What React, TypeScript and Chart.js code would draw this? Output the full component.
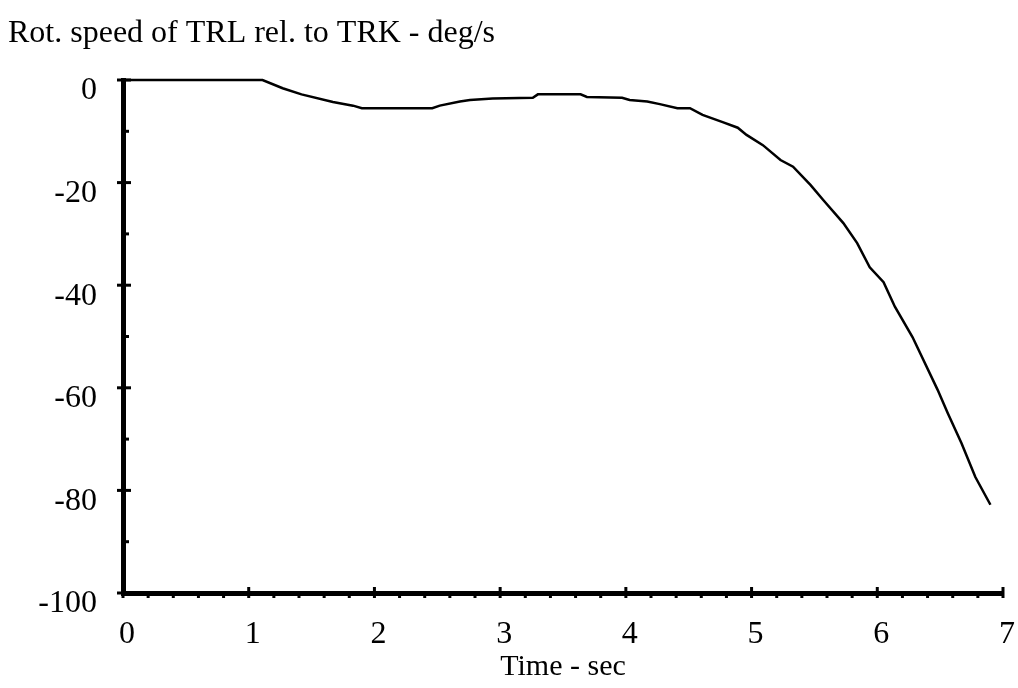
import React, { useEffect, useRef } from "react";
import { Chart, registerables } from "chart.js";

Chart.register(...registerables);

const timeValues = [0, 1.11, 1.27, 1.42, 1.67, 1.83, 1.9, 2.46, 2.52, 2.68, 2.76, 2.94, 3.26, 3.3, 3.64, 3.69, 3.97, 4.03, 4.17, 4.27, 4.41, 4.51, 4.61, 4.77, 4.89, 4.96, 5.09, 5.23, 5.33, 5.47, 5.57, 5.73, 5.84, 5.94, 6.05, 6.14, 6.28, 6.48, 6.56, 6.67, 6.78, 6.9];
const speedValues = [0, 0, -1.6, -2.8, -4.3, -5.0, -5.5, -5.5, -5.0, -4.2, -3.9, -3.6, -3.45, -2.8, -2.8, -3.3, -3.45, -3.9, -4.2, -4.7, -5.5, -5.5, -6.8, -8.2, -9.3, -10.7, -12.7, -15.6, -16.9, -20.5, -23.4, -27.9, -31.8, -36.5, -39.4, -44.2, -50.1, -60.4, -64.9, -70.8, -77.4, -82.8];

const chartTitle = "Rot. speed of TRL rel. to TRK - deg/s";
const xAxisTitle = "Time - sec";
const xMin = 0;
const xMax = 7;
const xMajorStep = 1;
const xMinorStep = 0.2;
const yMin = -100;
const yMax = 0;
const yMajorStep = 20;
const yMinorStep = 10;

const FONT = "'Liberation Serif', 'Times New Roman', serif";

const tickMarksPlugin = {
  id: "tickMarks",
  afterDraw(chart: any) {
    const { ctx, chartArea, scales } = chart;
    const xs = scales.x;
    const ys = scales.y;
    ctx.save();
    ctx.strokeStyle = "#000";
    ctx.lineCap = "butt";
    for (let v = yMin; v <= yMax + 1e-9; v += yMinorStep) {
      const py = ys.getPixelForValue(v);
      const major = Math.abs(v % yMajorStep) < 1e-6;
      ctx.lineWidth = 3;
      ctx.beginPath();
      if (major) {
        ctx.moveTo(chartArea.left - 6, py);
        ctx.lineTo(chartArea.left + 8, py);
      } else {
        ctx.moveTo(chartArea.left, py);
        ctx.lineTo(chartArea.left + 6, py);
      }
      ctx.stroke();
    }
    const n = Math.round((xMax - xMin) / xMinorStep);
    for (let i = 0; i <= n; i++) {
      const t = xMin + i * xMinorStep;
      const px = xs.getPixelForValue(t);
      const major = i % Math.round(xMajorStep / xMinorStep) === 0;
      ctx.lineWidth = 3;
      ctx.beginPath();
      if (major) {
        ctx.moveTo(px, chartArea.bottom - 6);
        ctx.lineTo(px, chartArea.bottom + 5);
      } else {
        ctx.moveTo(px, chartArea.bottom);
        ctx.lineTo(px, chartArea.bottom + 5);
      }
      ctx.stroke();
    }
    ctx.restore();
  },
};

export default function App() {
  const canvasRef = useRef<HTMLCanvasElement | null>(null);

  useEffect(() => {
    if (!canvasRef.current) return;
    Chart.defaults.font.family = FONT;
    Chart.defaults.color = "#000";
    const points = timeValues.map((t, i) => ({ x: t, y: speedValues[i] }));
    const chart = new Chart(canvasRef.current, {
      type: "line",
      data: {
        datasets: [
          {
            data: points,
            borderColor: "#000",
            borderWidth: 2.5,
            pointRadius: 0,
            tension: 0,
            fill: false,
            clip: 8,
          },
        ],
      },
      options: {
        animation: false,
        responsive: true,
        maintainAspectRatio: false,
        layout: { padding: { left: 8, right: 15, top: 0, bottom: 0 } },
        plugins: {
          legend: { display: false },
          tooltip: { enabled: false },
          title: {
            display: true,
            text: chartTitle,
            align: "start",
            color: "#000",
            font: { family: FONT, size: 32, weight: "normal" },
            padding: { top: 14, bottom: 27.6 },
          },
        },
        scales: {
          x: {
            type: "linear",
            min: xMin,
            max: xMax,
            grid: {
              display: true,
              drawOnChartArea: false,
              drawTicks: true,
              tickLength: 20,
              color: "rgba(0,0,0,0)",
            },
            border: { display: true, color: "#000", width: 5 },
            ticks: {
              stepSize: xMajorStep,
              color: "#000",
              font: { family: FONT, size: 32 },
              padding: 2,
              labelOffset: 4,
              maxRotation: 0,
            },
            title: {
              display: true,
              text: xAxisTitle,
              color: "#000",
              font: { family: FONT, size: 30 },
              padding: { top: 0, bottom: 3 },
            },
            afterFit(scale: any) {
              scale.height = 95;
            },
          },
          y: {
            type: "linear",
            min: yMin,
            max: yMax,
            grid: { display: false },
            border: { display: true, color: "#000", width: 5 },
            ticks: {
              stepSize: yMajorStep,
              color: "#000",
              font: { family: FONT, size: 32 },
              padding: 18,
              labelOffset: 11,
            },
            afterFit(scale: any) {
              scale.width = 115;
            },
          },
        },
      },
      plugins: [tickMarksPlugin],
    });
    return () => chart.destroy();
  }, []);

  return (
    <div style={{ position: "absolute", left: 0, top: 0, width: 1018, height: 688, background: "#fff" }}>
      <canvas ref={canvasRef} />
    </div>
  );
}
